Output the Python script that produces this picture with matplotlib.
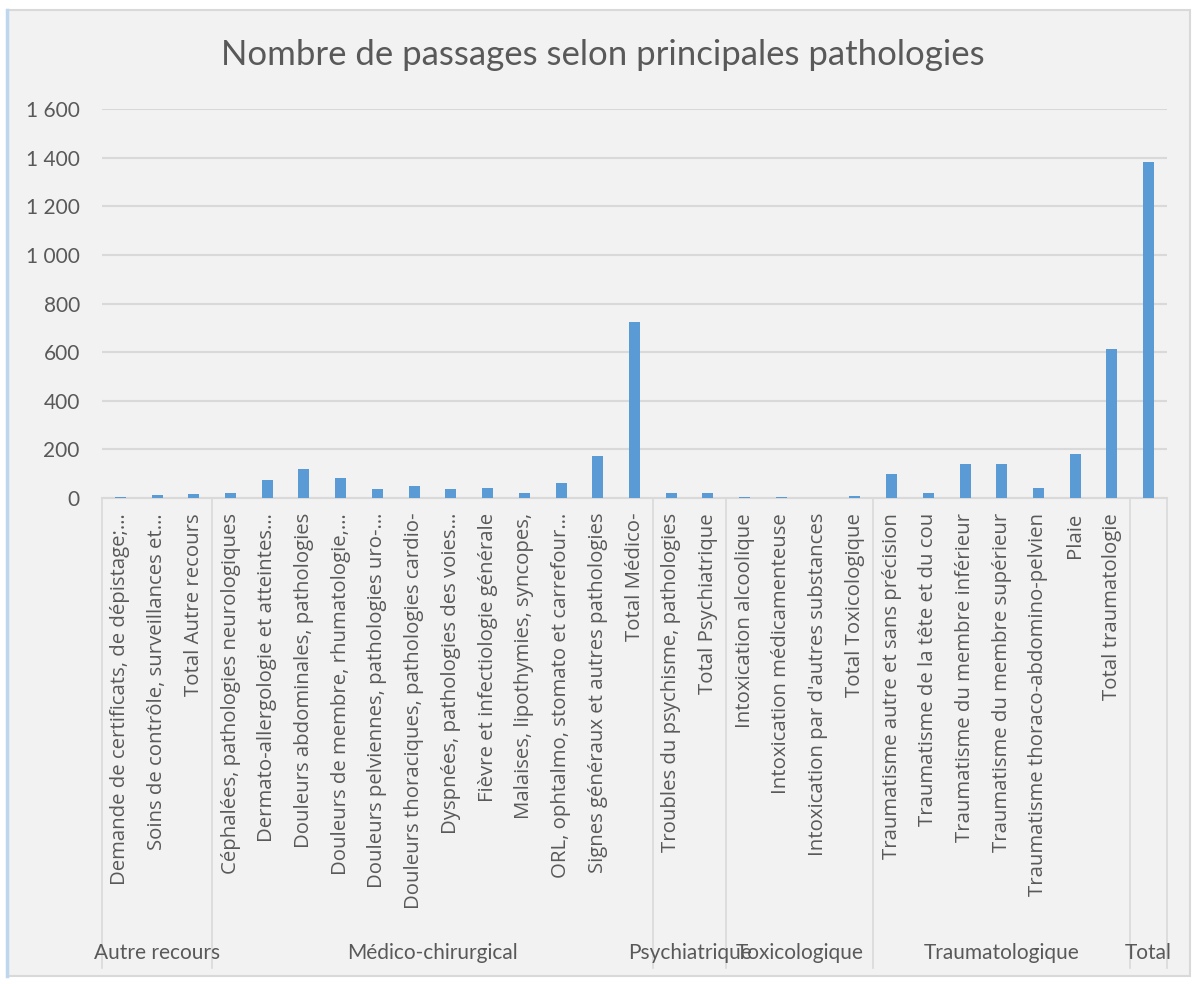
import matplotlib
matplotlib.use('Agg')
import matplotlib.pyplot as plt
import matplotlib.transforms as mtransforms
from matplotlib.patches import Rectangle
from matplotlib.lines import Line2D

# données
categories = [
    "Demande de certificats, de dépistage;…",
    "Soins de contrôle, surveillances et…",
    "Total Autre recours",
    "Céphalées, pathologies neurologiques",
    "Dermato-allergologie et atteintes…",
    "Douleurs abdominales, pathologies",
    "Douleurs de membre, rhumatologie,…",
    "Douleurs pelviennes, pathologies uro-…",
    "Douleurs thoraciques, pathologies cardio-",
    "Dyspnées, pathologies des voies…",
    "Fièvre et infectiologie générale",
    "Malaises, lipothymies, syncopes,",
    "ORL, ophtalmo, stomato et carrefour…",
    "Signes généraux et autres pathologies",
    "Total Médico-",
    "Troubles du psychisme, pathologies",
    "Total Psychiatrique",
    "Intoxication alcoolique",
    "Intoxication médicamenteuse",
    "Intoxication par d'autres substances",
    "Total Toxicologique",
    "Traumatisme autre et sans précision",
    "Traumatisme de la tête et du cou",
    "Traumatisme du membre inférieur",
    "Traumatisme du membre supérieur",
    "Traumatisme thoraco-abdomino-pelvien",
    "Plaie",
    "Total traumatologie",
    "",
]
values = [2, 12, 14, 21, 74, 117, 80, 36, 50, 34, 42, 18, 60, 173, 723,
          21, 21, 1, 2, 0, 5, 96, 18, 137, 137, 42, 179, 612, 1383]
groups = ["Autre recours", "Médico-chirurgical", "Psychiatrique",
          "Toxicologique", "Traumatologique", "Total"]
group_sizes = [3, 12, 2, 4, 7, 1]

W, H = 1196, 984
grey = '#595959'
light = '#D9D9D9'
sans = ['Open Sans', 'DejaVu Sans']

fig = plt.figure(figsize=(W / 100, H / 100), dpi=100)
fig.patch.set_facecolor('white')
fig.add_artist(Rectangle((8 / W, 8 / H), 1182 / W, 966 / H, transform=fig.transFigure,
                         facecolor='#F2F2F2', edgecolor=light, lw=1.5, zorder=0))
fig.add_artist(Line2D([7 / W, 7 / W], [8 / H, 974 / H], transform=fig.transFigure,
                      color='#BDD7EE', lw=2.5))

ax_bottom = 486.3
ax = fig.add_axes([102 / W, ax_bottom / H, 1065 / W, 388.4 / H])
ax.set_facecolor('none')

x = list(range(len(values)))
ax.bar(x, values, width=0.3, color='#5B9BD5', zorder=3)
ax.set_xlim(-0.5, len(values) - 0.5)
ax.set_ylim(0, 1600)

yt = list(range(0, 1601, 200))
ax.set_yticks(yt)
ax.set_yticklabels([f'{v:,}'.replace(',', ' ') for v in yt])
for lbl in ax.get_yticklabels():
    lbl.set_family(['Lato', 'DejaVu Sans'])
ax.grid(axis='y', color=light, lw=1.5)
ax.set_axisbelow(True)
for s in ['top', 'right', 'left']:
    ax.spines[s].set_visible(False)
ax.spines['bottom'].set_color(light)
ax.spines['bottom'].set_linewidth(1.5)
ax.tick_params(length=0)
ax.tick_params(axis='y', pad=16, labelsize=15, labelcolor=grey)

ax.set_xticks(x)
ax.set_xticklabels(categories, rotation=90, ha='right', va='center',
                   rotation_mode='anchor', fontsize=14.7, color=grey, family=sans)
ax.tick_params(axis='x', pad=11)

# séparateurs et libellés de groupes
trans = mtransforms.blended_transform_factory(ax.transData, fig.transFigure)
start = 0
edges = [start]
for n in group_sizes:
    start += n
    edges.append(start)
for e in edges:
    ax.plot([e - 0.5, e - 0.5], [ax_bottom / H, 16 / H], transform=trans,
            color=light, lw=1.2, clip_on=False)
for g, a, b in zip(groups, edges[:-1], edges[1:]):
    fig.text((a + b - 1) / 2, 31 / H, g, transform=trans, ha='center', va='center',
             fontsize=15, color=grey, family=['Lato', 'DejaVu Sans'])

fig.text(602.5 / W, 929 / H, "Nombre de passages selon principales pathologies",
         ha='center', va='center', fontsize=25, color=grey,
         family=['Lato', 'DejaVu Sans'])

fig.savefig('out.png', dpi=100)
